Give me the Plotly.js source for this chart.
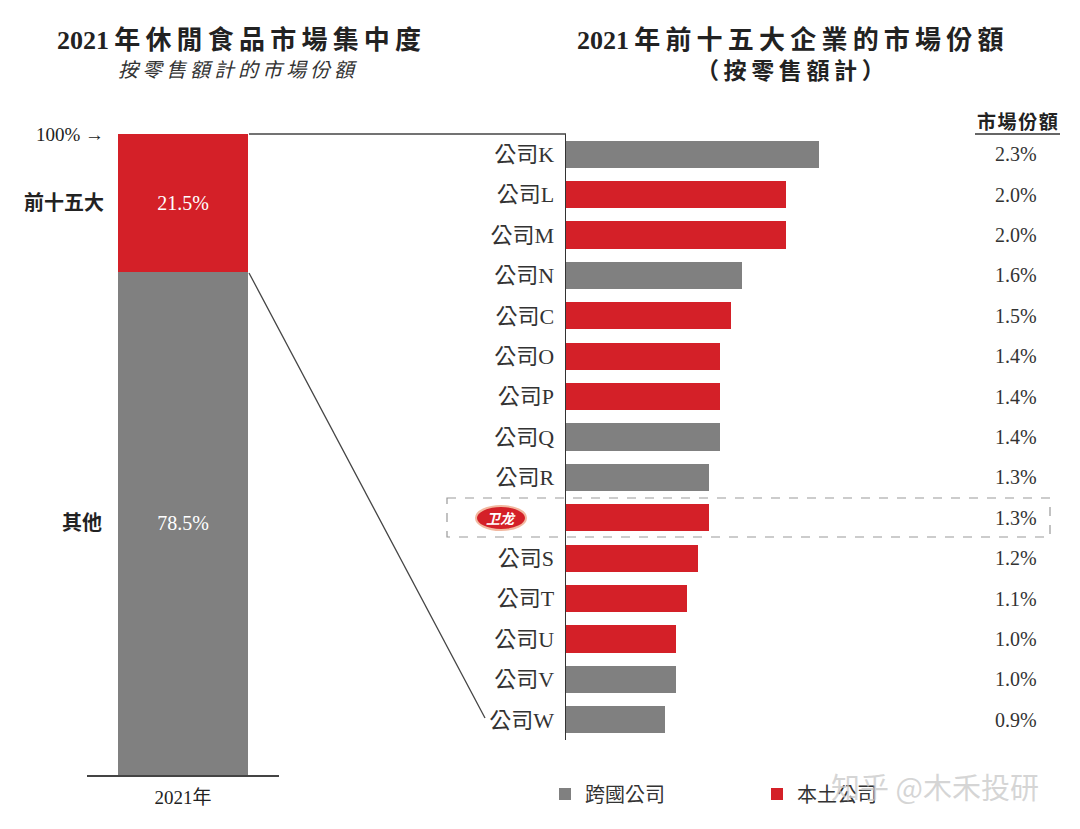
<!DOCTYPE html>
<html>
<head>
<meta charset="utf-8">
<script src="https://cdn.plot.ly/plotly-3.0.1.min.js"></script>
<style>html,body{margin:0;padding:0;background:#fff;}#chart{width:1080px;height:829px;}</style>
</head>
<body>
<div id="chart"></div>
<script>
// ---- data ----
const leftCategory = ["2021年"];
const leftSegments = ["其他", "前十五大"];
const leftValues = [78.5, 21.5];

const companies = ["公司K","公司L","公司M","公司N","公司C","公司O","公司P","公司Q","公司R","卫龙","公司S","公司T","公司U","公司V","公司W"];
const shares = [2.3, 2.0, 2.0, 1.6, 1.5, 1.4, 1.4, 1.4, 1.3, 1.3, 1.2, 1.1, 1.0, 1.0, 0.9];
const companyType = ["跨國","本土","本土","跨國","本土","本土","本土","跨國","跨國","本土","本土","本土","本土","跨國","跨國"];
const legendNames = ["跨國公司", "本土公司"];
const shareHeader = "市場份額";
const highlightCompany = "卫龙";
const titleLeft = "2021年休閒食品市場集中度";
const subtitleLeft = "按零售額計的市場份額";
const titleRight = "2021年前十五大企業的市場份額";
const subtitleRight = "（按零售額計）";
const watermark = "知乎 @木禾投研";

// ---- styles ----
const RED = "#d42028";
const GRAY = "#808080";
const SERIF = "'Liberation Serif', 'Noto Sans CJK TC', serif";
const W = 1080, H = 829;
const px = v => v / W;
const py = v => 1 - v / H;
// widen spacing between CJK characters
const spaced = (s, gap) => Array.from(s).map((ch, i, arr) => {
  const next = arr[i + 1];
  if (!next) return ch;
  const cjk = c => /[\u3000-\u9fff\uff00-\uffef]/.test(c);
  return (cjk(ch) || cjk(next)) ? ch + gap : ch;
}).join("");

const multiVals = shares.map((s, i) => companyType[i] === "跨國" ? s : null);
const localVals = shares.map((s, i) => companyType[i] === "本土" ? s : null);
const tickText = companies.map(c => c === highlightCompany ? "" : c);

const traces = [
  {type: "bar", x: leftCategory, y: [leftValues[0]], name: leftSegments[0], xaxis: "x", yaxis: "y",
   marker: {color: GRAY}, width: 0.68, showlegend: false, hoverinfo: "skip",
   text: [leftValues[0].toFixed(1) + "%"], textposition: "inside", insidetextanchor: "middle",
   textfont: {family: SERIF, size: 20, color: "#ffffff"}},
  {type: "bar", x: leftCategory, y: [leftValues[1]], name: leftSegments[1], xaxis: "x", yaxis: "y",
   marker: {color: RED}, width: 0.68, showlegend: false, hoverinfo: "skip",
   text: [leftValues[1].toFixed(1) + "%"], textposition: "inside", insidetextanchor: "middle",
   textfont: {family: SERIF, size: 20, color: "#ffffff"}},
  {type: "bar", orientation: "h", y: companies, x: multiVals, name: legendNames[0], xaxis: "x2", yaxis: "y2",
   marker: {color: GRAY}, width: 0.67},
  {type: "bar", orientation: "h", y: companies, x: localVals, name: legendNames[1], xaxis: "x2", yaxis: "y2",
   marker: {color: RED}, width: 0.67}
];

const A = (o) => Object.assign({xref: "paper", yref: "paper", showarrow: false, xanchor: "center", yanchor: "middle"}, o);

const annotations = [
  A({text: "<b>" + spaced(titleLeft, "\u2009") + "</b>", x: px(239), y: py(40),
     font: {family: SERIF, size: 26, color: "#222"}}),
  A({text: "<i>" + spaced(subtitleLeft, "\u2009") + "</i>", x: px(238), y: py(70),
     font: {family: SERIF, size: 20, color: "#333"}}),
  A({text: "<b>" + spaced(titleRight, "\u2009") + "</b>", x: px(790), y: py(40),
     font: {family: SERIF, size: 26, color: "#222"}}),
  A({text: "<b>" + spaced(subtitleRight, "\u2009") + "</b>", x: px(790), y: py(72),
     font: {family: SERIF, size: 23, color: "#222"}}),
  A({text: "100% →", x: px(106), y: py(134), xanchor: "right",
     font: {family: SERIF, size: 19, color: "#222"}}),
  A({text: "<b>" + leftSegments[1] + "</b>", yref: "y", x: px(106), y: leftValues[0] + leftValues[1] / 2,
     xanchor: "right", font: {family: SERIF, size: 20, color: "#222"}}),
  A({text: "<b>" + leftSegments[0] + "</b>", yref: "y", x: px(104), y: leftValues[0] / 2,
     xanchor: "right", font: {family: SERIF, size: 20, color: "#222"}}),
  A({text: "<b>" + spaced(shareHeader, "\u200a") + "</b>", x: px(1017), y: py(122),
     font: {family: SERIF, size: 19, color: "#222"}}),
  A({text: "<b><i>卫龙</i></b>", yref: "y2", x: px(501), y: highlightCompany,
     font: {family: "'Noto Sans CJK SC', sans-serif", size: 14, color: "#ffffff"}}),
  A({text: watermark, x: px(935), y: py(786),
     font: {family: "'Noto Sans CJK SC', sans-serif", size: 29, color: "rgba(200,200,200,0.75)"}})
];
shares.forEach((s, i) => {
  annotations.push(A({text: s.toFixed(1) + "%", yref: "y2", x: px(1039), y: companies[i],
    xanchor: "right", font: {family: SERIF, size: 20, color: "#333"}}));
});

const shapes = [
  // connector lines
  {type: "line", xref: "paper", yref: "paper", x0: px(249), y0: py(134), x1: px(566), y1: py(134),
   line: {color: "#444", width: 1.5}},
  {type: "line", xref: "paper", yref: "paper", x0: px(249), y0: py(273), x1: px(485), y1: py(718),
   line: {color: "#444", width: 1.3}},
  // underline for header
  {type: "line", xref: "paper", yref: "paper", x0: px(975), y0: py(134), x1: px(1060), y1: py(134),
   line: {color: "#333", width: 1.3}},
  // dashed highlight box
  {type: "rect", xref: "paper", yref: "paper", x0: px(447), y0: py(498), x1: px(1050), y1: py(537),
   line: {color: "#999", width: 1.2, dash: "dash"}},
  // logo ellipse
  {type: "circle", xref: "paper", yref: "paper", x0: px(476), y0: py(506), x1: px(526), y1: py(530),
   fillcolor: RED, line: {color: "#f2b8a0", width: 2}}
];

const layout = {
  width: W, height: H,
  margin: {l: 0, r: 0, t: 0, b: 0},
  paper_bgcolor: "#ffffff", plot_bgcolor: "rgba(0,0,0,0)",
  barmode: "stack",
  bargap: 0,
  showlegend: true,
  legend: {orientation: "h", x: px(545), y: py(794), xanchor: "left", yanchor: "middle",
    entrywidth: 167, entrywidthmode: "pixels", itemwidth: 30,
    font: {family: SERIF, size: 20, color: "#333"}, traceorder: "normal"},
  xaxis: {domain: [px(87), px(279)], type: "category", showline: true, linecolor: "#444", linewidth: 2,
    ticks: "", showgrid: false, zeroline: false, tickfont: {family: SERIF, size: 19, color: "#222"},
    ticklabelstandoff: 4},
  yaxis: {domain: [py(775), py(134)], range: [0, 100], visible: false, showgrid: false, zeroline: false},
  xaxis2: {domain: [px(566), px(1006)], range: [0, 4], anchor: "y2", visible: false, showgrid: false, zeroline: false},
  yaxis2: {domain: [py(740), py(134)], anchor: "x2", type: "category", autorange: "reversed",
    categoryorder: "array", categoryarray: companies, tickvals: companies, ticktext: tickText,
    showline: true, linecolor: "#333", linewidth: 1.5, ticks: "", showgrid: false, zeroline: false,
    tickfont: {family: SERIF, size: 22, color: "#333"}, ticklabelstandoff: 6},
  annotations: annotations,
  shapes: shapes
};

Plotly.newPlot("chart", traces, layout, {displayModeBar: false, staticPlot: true});
</script>
</body>
</html>
